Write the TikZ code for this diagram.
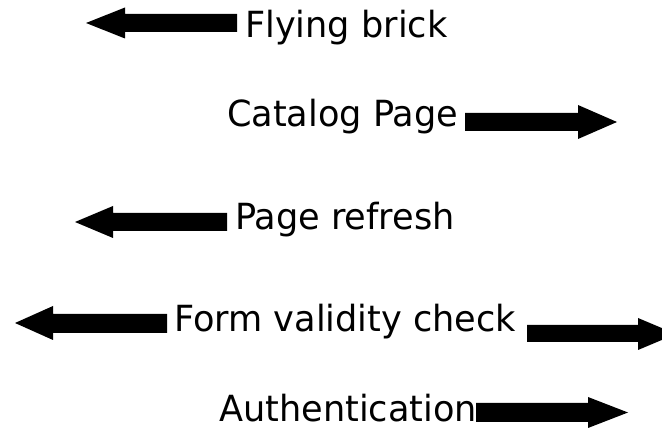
\documentclass[tikz,border=0pt]{standalone}
\usepackage{fontspec}
\setmainfont{DejaVu Sans}[FakeStretch=0.975]
\begin{document}
\begin{tikzpicture}[x=1pt,y=-1pt,
  lbl/.style={anchor=base west,inner sep=0pt,font=\fontsize{36}{40}\selectfont},
  blk/.style={fill=black}]
\useasboundingbox (0,0) rectangle (662,430);
\clip (0,0) rectangle (662,430);
% labels
\node[lbl] (t1) at (245,38) {Flying brick};
\node[lbl] (t2) at (227,127) {Catalog Page};
\node[lbl] (t3) at (235,230) {Page refresh};
\node[lbl] (t4) at (174,332) {Form validity check};
\node[lbl] (t5) at (219,422) {Authentication};
% row 1: left arrow
\fill[blk] (86,23) -- (125,7.5) -- (125,14) -- (237,14) -- (237,32) -- (125,32) -- (125,38.5) -- cycle;
% row 2: right arrow
\fill[blk] (465,113) -- (578,113) -- (578,105) -- (617,122) -- (578,139) -- (578,131) -- (465,131) -- cycle;
% row 3: left arrow
\fill[blk] (75,222) -- (113,206) -- (113,213) -- (227,213) -- (227,231) -- (113,231) -- (113,238) -- cycle;
% row 4: left arrow
\fill[blk] (15,323) -- (53,306) -- (53,314) -- (167,314) -- (167,333) -- (53,333) -- (53,340) -- cycle;
% row 4: right arrow
\fill[blk] (527,325) -- (638,325) -- (638,318) -- (676,334) -- (638,350) -- (638,342) -- (527,342) -- cycle;
% row 5: right arrow
\fill[blk] (476,403) -- (588,403) -- (588,397) -- (628,412.5) -- (588,428) -- (588,422) -- (476,422) -- cycle;
\end{tikzpicture}
\end{document}
